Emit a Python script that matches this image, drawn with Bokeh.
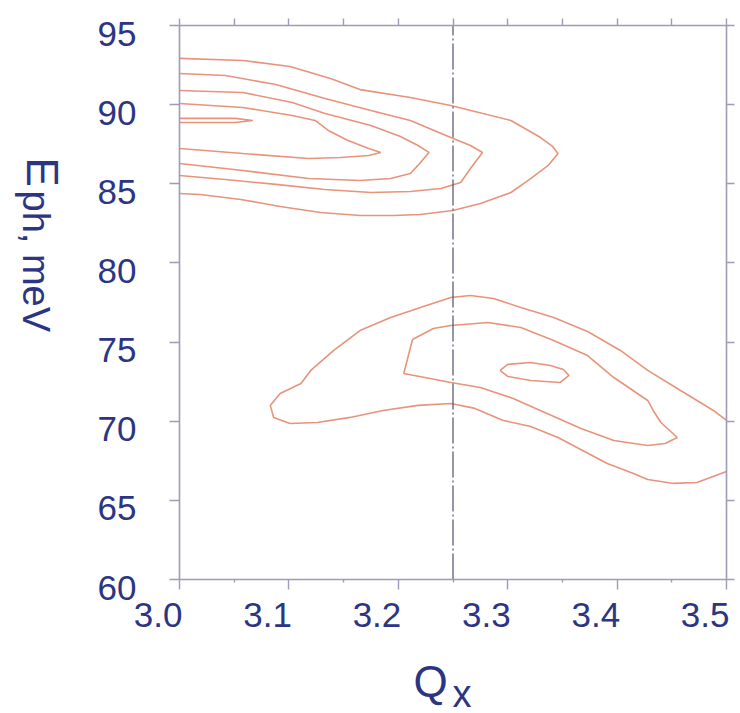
import math
from bokeh.plotting import figure
from bokeh.models import LinearAxis, FixedTicker, Label, Range1d
from bokeh.embed import file_html
from bokeh.resources import INLINE

# ---------------- data ----------------
x_ticks = [3.0, 3.1, 3.2, 3.3, 3.4, 3.5]
x_tick_labels = ["3.0", "3.1", "3.2", "3.3", "3.4", "3.5"]
x_minor_ticks = [3.05, 3.15, 3.25, 3.35, 3.45]
y_ticks = [60, 65, 70, 75, 80, 85, 90, 95]
y_tick_labels = ["60", "65", "70", "75", "80", "85", "90", "95"]
q_marker = 3.25

# upper (high-energy) contours, open at Qx = 3.0
u1_x = [3.000, 3.058, 3.101, 3.138, 3.165, 3.211, 3.248, 3.303, 3.330, 3.341, 3.346,
        3.337, 3.321, 3.303, 3.275, 3.250, 3.220, 3.196, 3.165, 3.129, 3.092, 3.056, 3.019, 3.000]
u1_y = [92.92, 92.79, 92.41, 91.65, 90.95, 90.45, 89.95, 89.00, 87.92, 87.36, 86.91,
        86.16, 85.33, 84.45, 83.76, 83.31, 83.06, 83.00, 83.00, 83.19, 83.57, 84.01, 84.32, 84.39]
u2_x = [3.000, 3.042, 3.088, 3.133, 3.175, 3.211, 3.248, 3.266, 3.277,
        3.266, 3.257, 3.239, 3.211, 3.175, 3.133, 3.088, 3.042, 3.000]
u2_y = [91.97, 91.84, 91.27, 90.39, 89.63, 89.00, 87.92, 87.42, 86.98,
        85.97, 85.08, 84.70, 84.51, 84.45, 84.64, 84.96, 85.27, 85.52]
u3_x = [3.000, 3.058, 3.103, 3.133, 3.175, 3.202, 3.218, 3.228,
        3.218, 3.211, 3.193, 3.165, 3.118, 3.058, 3.000]
u3_y = [90.89, 90.77, 90.14, 89.44, 88.68, 87.99, 87.42, 86.98,
        86.16, 85.65, 85.33, 85.21, 85.33, 85.84, 86.28]
u4_x = [3.000, 3.058, 3.103, 3.124, 3.136, 3.154, 3.173, 3.184,
        3.173, 3.147, 3.118, 3.058, 3.000]
u4_y = [90.07, 89.82, 89.31, 89.00, 88.37, 87.74, 87.23, 86.98,
        86.79, 86.66, 86.60, 86.91, 87.23]
u5_x = [3.000, 3.051, 3.067, 3.051, 3.000]
u5_y = [89.13, 89.13, 89.00, 88.87, 88.87]

# lower contours
l1_x = [3.500, 3.488, 3.458, 3.428, 3.403, 3.373, 3.342, 3.312, 3.287, 3.266, 3.248, 3.223,
        3.193, 3.165, 3.141, 3.120, 3.111, 3.092, 3.083, 3.086, 3.101, 3.126, 3.156, 3.186,
        3.218, 3.248, 3.270, 3.296, 3.321, 3.346, 3.391, 3.415, 3.428, 3.452, 3.473, 3.500]
l1_y = [70.05, 70.68, 71.94, 73.21, 74.47, 75.67, 76.55, 77.19, 77.75, 77.94, 77.82, 77.25,
        76.55, 75.73, 74.47, 73.21, 72.38, 71.75, 71.00, 70.24, 69.86, 69.92, 70.24, 70.68,
        71.00, 71.12, 70.81, 70.05, 69.67, 68.97, 67.33, 66.70, 66.32, 66.07, 66.13, 66.83]
l2_x = [3.213, 3.232, 3.248, 3.282, 3.312, 3.342, 3.373, 3.397, 3.428, 3.433, 3.440, 3.455,
        3.444, 3.428, 3.397, 3.367, 3.336, 3.305, 3.275, 3.248, 3.205, 3.213]
l2_y = [75.16, 75.86, 76.05, 76.24, 75.92, 75.10, 74.15, 72.76, 71.31, 70.68, 69.92, 68.97,
        68.59, 68.47, 68.78, 69.54, 70.49, 71.44, 72.13, 72.45, 73.02, 75.16]
l3_x = [3.293, 3.300, 3.321, 3.339, 3.351, 3.356, 3.348, 3.321, 3.300, 3.293]
l3_y = [73.21, 73.59, 73.71, 73.52, 73.27, 72.89, 72.45, 72.57, 72.83, 73.21]

contours_x = [u1_x, u2_x, u3_x, u4_x, u5_x, l1_x, l2_x, l3_x]
contours_y = [u1_y, u2_y, u3_y, u4_y, u5_y, l1_y, l2_y, l3_y]

# ---------------- layout (pixels) ----------------
W, H = 740, 713
BOX_L, BOX_R, BOX_T, BOX_B = 179, 726, 25, 579

x0, x1 = x_ticks[0], x_ticks[-1]
y0, y1 = y_ticks[0], y_ticks[-1]
kx = (BOX_R - BOX_L) / (x1 - x0)
ky = (BOX_B - BOX_T) / (y1 - y0)
xr = Range1d(x0 - BOX_L / kx, x1 + (W - BOX_R) / kx)
yr = Range1d(y0 - (H - BOX_B) / ky, y1 + BOX_T / ky)

FONT = "Liberation Sans"
NAVY = "#2c3583"
AXIS = "#9c9cba"
CONTOUR = "#e8937b"

p = figure(width=W, height=H, x_range=xr, y_range=yr,
           x_axis_location=None, y_axis_location=None,
           output_backend="svg", toolbar_location=None, min_border=0)
p.grid.visible = False
p.outline_line_color = None
p.background_fill_color = "white"
p.border_fill_color = "white"


def make_axis(loc, bounds, ticks, out, line=True):
    ax = LinearAxis(ticker=FixedTicker(ticks=[], minor_ticks=ticks),
                    fixed_location=loc, bounds=bounds)
    ax.axis_line_color = AXIS if line else None
    ax.axis_line_width = 1.6
    ax.major_tick_line_color = None
    ax.minor_tick_line_color = AXIS
    ax.minor_tick_line_width = 1.4
    ax.minor_tick_in = 0
    ax.minor_tick_out = out
    return ax


p.add_layout(make_axis(y0, (x0, x1), x_ticks, 10), "below")
p.add_layout(make_axis(y0, (x0, x1), x_minor_ticks, 3, line=False), "below")
p.add_layout(make_axis(y1, (x0, x1), x_ticks + x_minor_ticks, 7), "above")
p.add_layout(make_axis(x0, (y0, y1), y_ticks, 10), "left")
p.add_layout(make_axis(x1, (y0, y1), y_ticks, 8), "right")

p.multi_line(xs=contours_x, ys=contours_y, line_color=CONTOUR, line_width=1.6)

p.line(x=[q_marker, q_marker], y=[y0, y1], line_color="#4d5168",
       line_width=1.2, line_dash="26 3 2 3")

# tick labels (right-aligned to the tick, as in the original)
for t, s in zip(x_ticks, x_tick_labels):
    p.add_layout(Label(x=t, y=y0, x_offset=3, y_offset=-35, text=s,
                       text_font=FONT, text_font_size="35px", text_color=NAVY,
                       text_align="right", text_baseline="middle"))
for t, s in zip(y_ticks, y_tick_labels):
    p.add_layout(Label(x=x0, y=t, x_offset=-43, y_offset=-8, text=s,
                       text_font=FONT, text_font_size="35px", text_color=NAVY,
                       text_align="right", text_baseline="middle"))

# axis titles
p.add_layout(Label(x=x0, y=y0, x_offset=234, y_offset=-102, text="Q",
                   text_font=FONT, text_font_size="44px", text_color=NAVY,
                   text_align="left", text_baseline="middle"))
p.add_layout(Label(x=x0, y=y0, x_offset=273, y_offset=-114, text="x",
                   text_font=FONT, text_font_size="38px", text_color=NAVY,
                   text_align="left", text_baseline="middle"))
p.add_layout(Label(x=x0, y=y1, x_offset=-137, y_offset=-132, text="E",
                   angle=-math.pi / 2, text_font=FONT, text_font_size="44px",
                   text_color=NAVY, text_align="left", text_baseline="middle"))
p.add_layout(Label(x=x0, y=y1, x_offset=-144, y_offset=-165, text="ph, meV",
                   angle=-math.pi / 2, text_font=FONT, text_font_size="38px",
                   text_color=NAVY, text_align="left", text_baseline="middle"))

open("out.html", "w").write(file_html(p, INLINE))
